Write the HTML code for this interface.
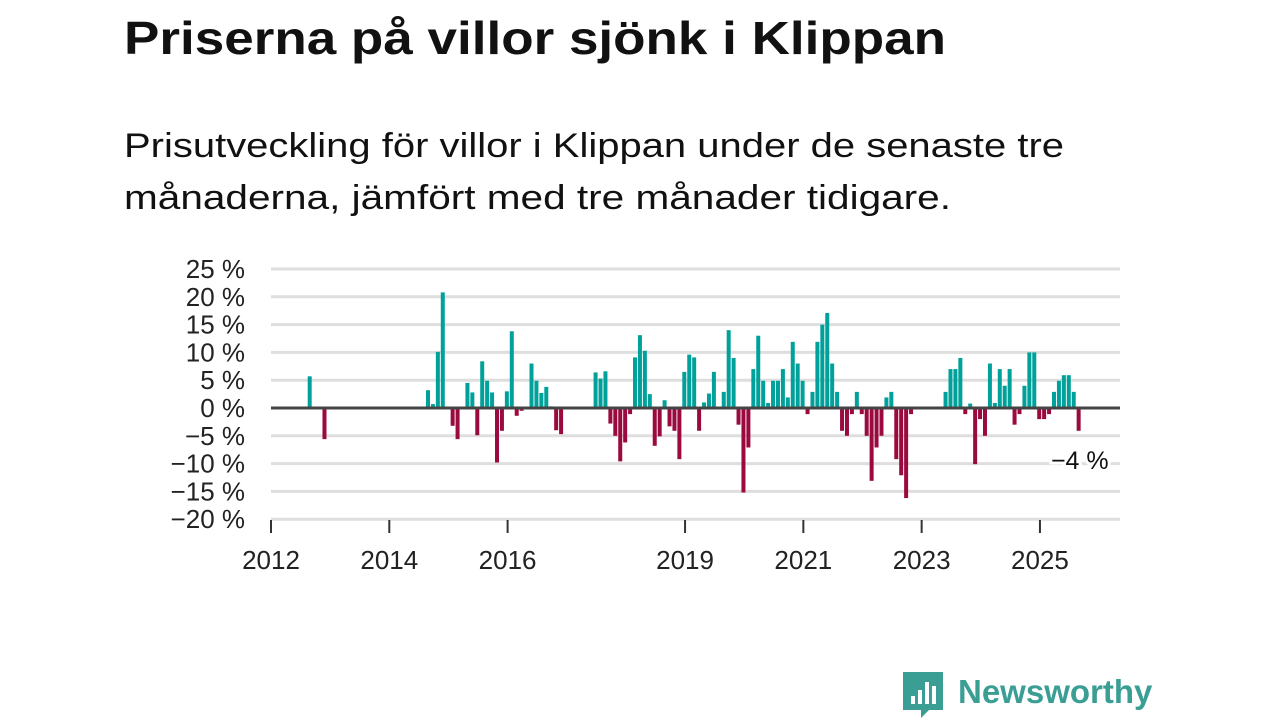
<!DOCTYPE html>
<html><head><meta charset="utf-8"><style>
body{margin:0;width:1280px;height:720px;background:#fff;overflow:hidden;font-family:"Liberation Sans",sans-serif;}
</style></head><body>
<svg width="1280" height="720">
<text x="124" y="54" font-size="46" font-weight="bold" fill="#111" textLength="822" lengthAdjust="spacingAndGlyphs">Priserna på villor sjönk i Klippan</text>
<text x="124" y="157" font-size="34" fill="#111" textLength="940" lengthAdjust="spacingAndGlyphs">Prisutveckling för villor i Klippan under de senaste tre</text>
<text x="124" y="209" font-size="34" fill="#111" textLength="827" lengthAdjust="spacingAndGlyphs">månaderna, jämfört med tre månader tidigare.</text>
<g id="grid"></g><g id="bars"></g><g id="axes"></g>
<g>
<path d="M903 672 h40 v38 h-14 l-8 8 v-8 h-18 z" fill="#3a9e94"/>
<rect x="911" y="696" width="4" height="8" fill="#fff"/><rect x="918" y="690" width="4" height="14" fill="#fff"/><rect x="925" y="682" width="4" height="22" fill="#fff"/><rect x="932" y="686" width="4" height="18" fill="#fff"/>
<text x="958" y="703" font-size="33" font-weight="bold" fill="#3a9e94">Newsworthy</text>
</g>
</svg>
<script>
const months=[7,10,31,32,33,34,36,37,39,40,41,42,43,44,45,46,47,48,49,50,52,53,54,55,56,57,58,65,66,67,68,69,70,71,72,73,74,75,76,77,78,79,80,81,82,83,84,85,86,87,88,89,91,92,93,94,95,96,97,98,99,100,101,102,103,104,105,106,107,108,109,110,111,112,113,114,115,116,117,118,119,120,121,122,123,124,125,126,127,128,129,136,137,138,139,140,141,142,143,144,145,146,147,148,149,150,151,152,153,154,155,156,157,158,159,160,161,162,163];
const values=[5.7,-5.6,3.2,0.7,10.1,20.8,-3.2,-5.6,4.5,2.8,-4.9,8.4,4.9,2.8,-9.8,-4.1,3.0,13.8,-1.4,-0.5,8.0,4.9,2.7,3.8,0.3,-4.0,-4.7,6.4,5.3,6.6,-2.8,-5.0,-9.6,-6.2,-1.1,9.1,13.1,10.3,2.5,-6.8,-5.1,1.4,-3.3,-4.1,-9.2,6.5,9.6,9.1,-4.1,1.0,2.6,6.5,2.9,14.0,9.0,-3.0,-15.2,-7.1,7.0,13.0,4.9,0.9,4.9,4.9,7.0,1.9,11.9,8.0,4.9,-1.1,2.9,11.9,15.0,17.1,8.0,2.9,-4.1,-5.0,-1.1,2.9,-1.1,-5.0,-13.1,-7.1,-5.0,1.9,2.9,-9.2,-12.1,-16.2,-1.1,2.9,7.0,7.0,9.0,-1.1,0.8,-10.1,-2.0,-5.0,8.0,0.9,7.0,4.0,7.0,-3.0,-1.1,4.0,10.0,10.0,-2.0,-2.0,-1.1,2.9,4.9,5.9,5.9,2.9,-4.1];
const yTicks=[25,20,15,10,5,0,-5,-10,-15,-20];
const xYears=[2012,2014,2016,2019,2021,2023,2025];
const NS="http://www.w3.org/2000/svg";
const X0=271,YW=59.15,MW=YW/12;
const x=m=>X0+m*MW;
const xy=yr=>X0+(yr-2012)*YW;
const y=v=>408-v*5.56;
function mk(t,a,p){const e=document.createElementNS(NS,t);for(const k in a)e.setAttribute(k,a[k]);p.appendChild(e);return e;}
const grid=document.getElementById('grid'),bars=document.getElementById('bars'),axes=document.getElementById('axes');
yTicks.forEach(t=>{
 if(t!==0){const l=mk('line',{x1:271,x2:1120,y1:y(t),y2:y(t),stroke:'#dedede','stroke-width':3},grid);
 
 }
 const tx=mk('text',{x:245,y:y(t)+9,'font-size':26,'text-anchor':'end',fill:'#222'},axes);
 tx.textContent=(t<0?'\u2212'+(-t):t)+' %';
 
 
});
months.forEach((m,i)=>{
 const v=values[i];
 const r=mk('rect',{x:x(m+0.85)-2,width:4,y:Math.min(y(v),y(0)),height:Math.abs(y(v)-y(0)),fill:v>=0?'#00a19a':'#9b0a3f'},bars);
 
 
});
const z=mk('line',{x1:271,x2:1120,y1:y(0),y2:y(0),stroke:'#444','stroke-width':3},axes);


xYears.forEach(yr=>{
 const t=mk('line',{x1:xy(yr),x2:xy(yr),y1:520,y2:533,stroke:'#333','stroke-width':2},axes);
 
 
 const tx=mk('text',{x:xy(yr),y:569,'font-size':26,'text-anchor':'middle',fill:'#222'},axes);
 tx.textContent=yr;
 
 
});
const li=months.length-1;
const lab=mk('text',{x:x(months[li]+0.85)+30,y:y(values[li])+38,'font-size':25,'text-anchor':'end',fill:'#111',stroke:'#fff','stroke-width':6,'paint-order':'stroke'},axes);
lab.textContent='\u2212'+Math.round(-values[li])+' %';


</script>
</body></html>
